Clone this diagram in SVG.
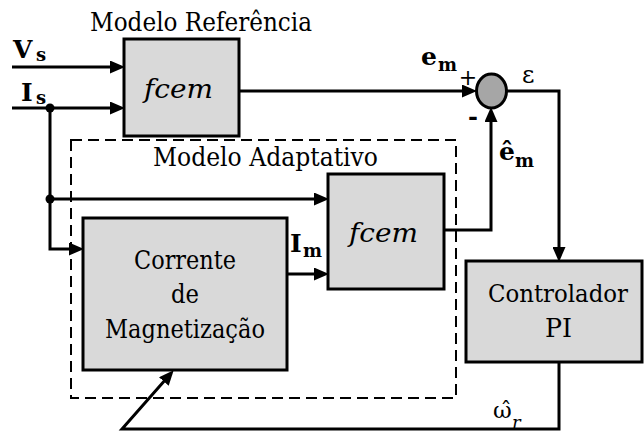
<svg xmlns="http://www.w3.org/2000/svg" width="644" height="432" viewBox="0 0 644 432" font-family="'DejaVu Serif', 'Liberation Serif', serif">
<defs>
<style>
text{font-family:'DejaVu Serif','Liberation Serif','Times New Roman',serif;fill:#000}
.lbl{font-size:26px}
.it{font-style:italic}
.b{font-weight:bold}
.box{fill:#d9d9d9;stroke:#000;stroke-width:3}
.wire{fill:none;stroke:#000;stroke-width:3}
.arr{marker-end:url(#ah)}
</style>
<marker id="ah" markerUnits="userSpaceOnUse" markerWidth="15" markerHeight="13" refX="10" refY="6.5" orient="auto">
<path d="M0,0 L15,6.5 L0,13 z" fill="#000"/>
</marker>
</defs>
<rect width="644" height="432" fill="#fff"/>

<g id="adaptive-model">
<rect x="71" y="140" width="385" height="258" fill="none" stroke="#000" stroke-width="2" stroke-dasharray="11,6"/>
<text class="lbl" x="153" y="166" textLength="225" lengthAdjust="spacingAndGlyphs">Modelo Adaptativo</text>
</g>

<g id="reference-model">
<text class="lbl" x="90" y="31" textLength="222" lengthAdjust="spacingAndGlyphs">Modelo Referência</text>
<rect class="box" x="124" y="39" width="115" height="97"/>
<text class="lbl it" x="144" y="98" textLength="69" lengthAdjust="spacingAndGlyphs">fcem</text>
</g>

<g id="fcem-adaptive">
<rect class="box" x="328" y="174" width="116" height="115"/>
<text class="lbl it" x="349" y="242" textLength="69" lengthAdjust="spacingAndGlyphs">fcem</text>
</g>

<g id="magnetizing-current">
<rect class="box" x="83" y="218" width="204" height="152"/>
<text class="lbl" x="134" y="269" textLength="102" lengthAdjust="spacingAndGlyphs">Corrente</text>
<text class="lbl" x="171" y="303" textLength="28" lengthAdjust="spacingAndGlyphs">de</text>
<text class="lbl" x="105" y="338" textLength="160" lengthAdjust="spacingAndGlyphs">Magnetização</text>
</g>

<g id="pi-controller">
<rect class="box" x="466" y="261" width="176" height="101"/>
<text x="488" y="302" font-size="24" textLength="140" lengthAdjust="spacingAndGlyphs">Controlador</text>
<text class="lbl" x="545" y="337" textLength="27" lengthAdjust="spacingAndGlyphs">PI</text>
</g>

<g id="summing-junction">
<ellipse cx="491.5" cy="91" rx="15" ry="17" fill="#a6a6a6" stroke="#000" stroke-width="3"/>
<text x="468" y="85" font-size="22" text-anchor="middle">+</text>
<text x="473" y="125" font-size="24" font-weight="bold" text-anchor="middle">-</text>
</g>

<g id="connectors">
<path class="wire arr" d="M12,67 H120"/>
<path class="wire arr" d="M12,108 H120"/>
<path class="wire arr" d="M239,91 H472"/>
<path class="wire arr" d="M444,230 H491 V112"/>
<path class="wire arr" d="M507,91 H559 V257"/>
<path class="wire arr" d="M50,108 V249 H79"/>
<path class="wire arr" d="M50,199 H324"/>
<path class="wire arr" d="M287,274 H324"/>
<path class="wire arr" d="M559,362 V429 H122 L170.4,374"/>
<circle cx="50" cy="108" r="4.5" fill="#000"/>
<circle cx="50" cy="199" r="4.5" fill="#000"/>
</g>

<g id="labels">
<text class="b" x="13" y="58" font-size="25">V</text>
<text class="b" x="36" y="61" font-size="18">s</text>
<text class="b" x="21" y="101" font-size="25">I</text>
<text class="b" x="36" y="104" font-size="18">s</text>
<text class="b" x="421" y="65" font-size="25">e</text>
<text class="b" x="438" y="71" font-size="18">m</text>
<text x="522" y="83" font-size="24">ε</text>
<text class="b" x="499" y="160" font-size="25">ê</text>
<text class="b" x="515" y="167" font-size="18">m</text>
<text class="b" x="290" y="252" font-size="25">I</text>
<text class="b" x="303" y="257" font-size="18">m</text>
<text x="493" y="418" font-size="23">ω̂</text>
<text class="it" x="512" y="429" font-size="18">r</text>
</g>
</svg>
